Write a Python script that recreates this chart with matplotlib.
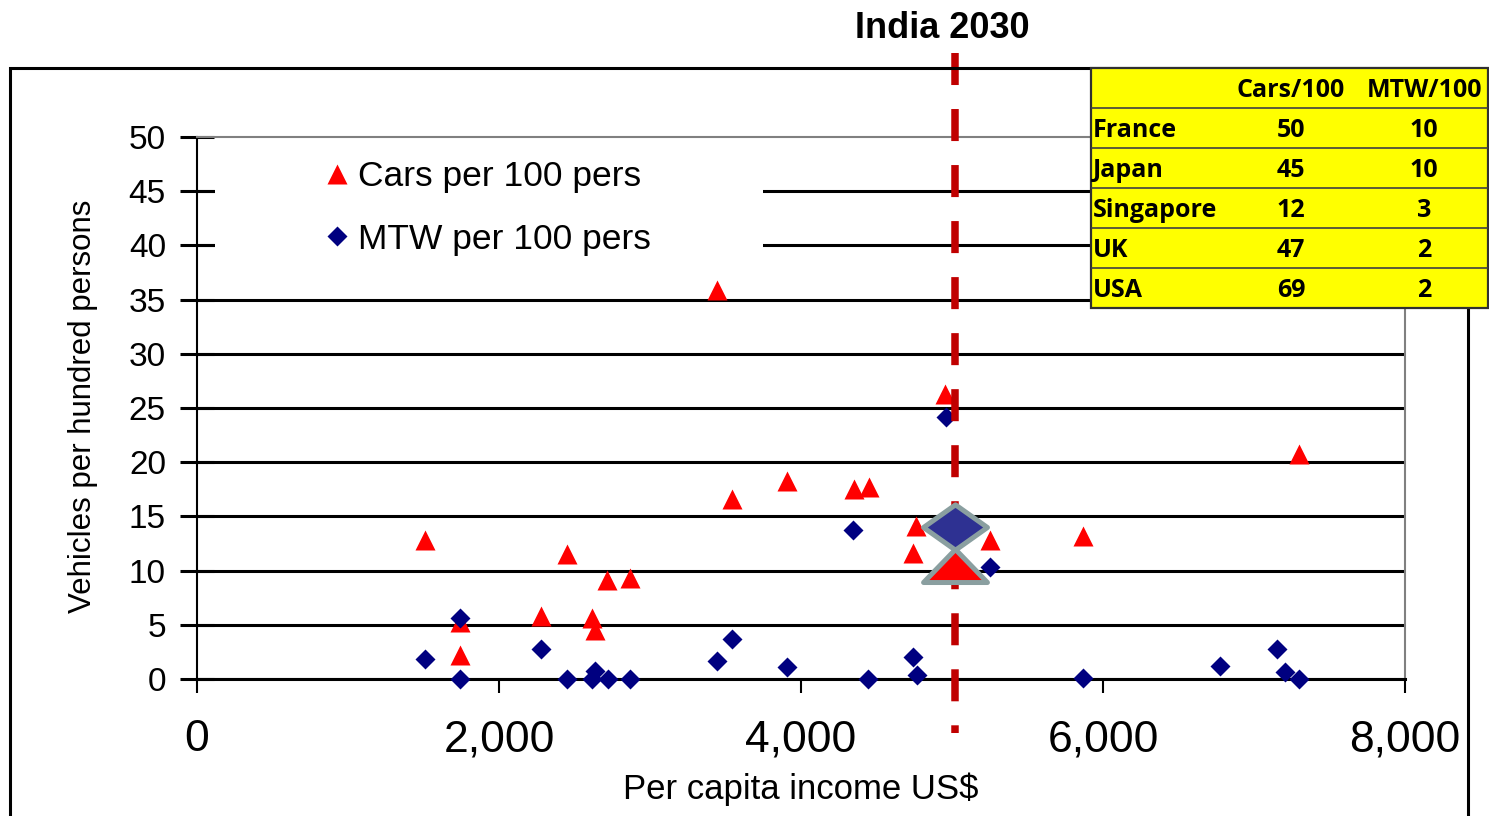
import matplotlib
matplotlib.use("Agg")
import matplotlib.pyplot as plt
from matplotlib.markers import MarkerStyle
from matplotlib.patches import Rectangle
from matplotlib.path import Path

plt.rcParams['font.family'] = ['Liberation Sans', 'DejaVu Sans']

# Cars per 100 persons vs per capita income (US$)
cars_income = [1510, 1740, 1740, 2280, 2450, 2615, 2635, 2715, 2865, 3445,
               3540, 3905, 4350, 4450, 4760, 4740, 4955, 5250, 5870, 7300]
cars_per100 = [12.8, 5.3, 2.2, 5.8, 11.5, 5.6, 4.5, 9.1, 9.3, 35.9,
               16.6, 18.3, 17.5, 17.7, 14.1, 11.6, 26.3, 12.8, 13.2, 20.8]

# Motorised two-wheelers per 100 persons
mtw_income = [1510, 1740, 1740, 2280, 2450, 2635, 2615, 2720, 2865, 3540,
              3445, 3905, 4445, 4345, 4740, 4765, 4960, 5250, 5870, 6775,
              7150, 7205, 7300]
mtw_per100 = [1.8, 5.6, 0.0, 2.8, 0.0, 0.7, 0.0, 0.0, 0.0, 3.7,
              1.7, 1.1, 0.0, 13.7, 2.0, 0.4, 24.2, 10.3, 0.1, 1.2,
              2.8, 0.6, 0.0]

# India projection for 2030
india_label = 'India 2030'
india_income = 5020
india_cars = 10
india_mtw = 14

x_ticks = [0, 2000, 4000, 6000, 8000]
x_tick_labels = ['0', '2,000', '4,000', '6,000', '8,000']
y_ticks = [0, 5, 10, 15, 20, 25, 30, 35, 40, 45, 50]

# ownership levels in developed countries
table_header = ['', 'Cars/100', 'MTW/100']
countries = ['France', 'Japan', 'Singapore', 'UK', 'USA']
country_cars = [50, 45, 12, 47, 69]
country_mtw = [10, 10, 3, 2, 2]

W, H = 1489, 816
fig = plt.figure(figsize=(W / 100, H / 100), dpi=100)


def fx(px):
    return px / W


def fy(py):
    return 1 - py / H


ax = fig.add_axes([fx(197), fy(679), (1405 - 197) / W, (679 - 137) / H])
ax.set_xlim(0, 8000)
ax.set_ylim(0, 50)

for y in y_ticks[:-1]:
    ax.axhline(y, color='black', lw=2.2, zorder=1.5)

for side in ['top', 'right']:
    ax.spines[side].set_color('#808080')
    ax.spines[side].set_linewidth(1.5)
ax.spines['left'].set_linewidth(1.5)
ax.spines['bottom'].set_linewidth(2.2)

ax.set_xticks(x_ticks)
ax.set_xticklabels(x_tick_labels)
ax.set_yticks(y_ticks)
ax.tick_params(axis='y', direction='inout', length=23.8, width=2.2, pad=10.5, labelsize=24)
ax.tick_params(axis='x', direction='out', length=10, width=1.5, pad=19, labelsize=32)

ax.set_xlabel('Per capita income US$', fontsize=25, va='center')
ax.xaxis.set_label_coords(0.5, (679 - 789) / 542)
ax.set_ylabel('Vehicles per hundred persons', fontsize=22.5, va='center', ha='center')
ax.yaxis.set_label_coords((83 - 197) / 1208, (679 - 406) / 542)

# white box behind the legend hides the upper gridlines
ax.add_patch(Rectangle((0.0149, 0.718), 0.4536, 0.267, transform=ax.transAxes,
                       facecolor='white', edgecolor='none', zorder=2))

h_cars, = ax.plot(cars_income, cars_per100, ls='none', marker='^', ms=14,
                  color='#ff0000', mec='none', clip_on=False, zorder=3)
h_mtw, = ax.plot(mtw_income, mtw_per100, ls='none', marker='D', ms=10.5,
                 color='#000080', mec='none', clip_on=False, zorder=3)

ax.legend([h_cars, h_mtw], ['Cars per 100 pers', 'MTW per 100 pers'],
          loc='upper left', bbox_to_anchor=(0.1073, 0.9575), frameon=False,
          fontsize=25.5, borderpad=0, borderaxespad=0, handlelength=0.6,
          handletextpad=0.3, labelspacing=0.84)

# dashed marker for India 2030 income level
ax.plot([india_income, india_income], [1.155, -0.0996], transform=ax.get_xaxis_transform(),
        color='#c00000', lw=5.4, dashes=(4.27, 3.2), clip_on=False, zorder=4)

diamond = MarkerStyle(Path([(-1, 0), (0, 0.71), (1, 0), (0, -0.71), (-1, 0)], closed=True),
                      joinstyle='miter')
triangle = MarkerStyle(Path([(-1, -0.345), (1, -0.345), (0, 0.69), (-1, -0.345)], closed=True),
                       joinstyle='miter')
ax.plot([india_income], [india_mtw], ls='none', marker=diamond, ms=46,
        mfc='#2e3192', mec='#8a9fa0', mew=3.6, clip_on=False, zorder=5)
ax.plot([india_income], [india_cars], ls='none', marker=triangle, ms=46,
        mfc='#ff0000', mec='#8a9fa0', mew=3.6, clip_on=False, zorder=6)

fig.text(fx(942), fy(28), india_label, fontsize=26, fontweight='bold',
         ha='center', va='center')

# outer frame
fig.add_artist(Rectangle((fx(10), -0.05), (1468 - 10) / W, fy(68) + 0.05,
                         transform=fig.transFigure, fill=False,
                         edgecolor='black', lw=2.2, zorder=1))

# comparison table in the top right corner
tab = fig.add_axes([fx(1091), fy(308), (1488 - 1091) / W, (308 - 68) / H])
tab.set_zorder(5)
n_rows = len(countries) + 1
tab.set_xlim(0, 1)
tab.set_ylim(n_rows, 0)
tab.axis('off')
tab.add_patch(Rectangle((0, 0), 1, 1, transform=tab.transAxes, facecolor='#ffff00',
                        edgecolor='#303030', lw=1.6, clip_on=False))
for r in range(1, n_rows):
    tab.axhline(r, color='#404040', lw=1.2)

col_x = [0.005, 0.504, 0.839]
tfont = dict(family=['Open Sans', 'DejaVu Sans'], fontweight='bold', fontsize=18, va='center')
for c, label in enumerate(table_header):
    tab.text(col_x[c], 0.57, label, ha='left' if c == 0 else 'center', **tfont)
for r, (name, cars, mtw) in enumerate(zip(countries, country_cars, country_mtw), start=1):
    yc = r + 0.57
    tab.text(col_x[0], yc, name, ha='left', **tfont)
    tab.text(col_x[1], yc, str(cars), ha='center', **tfont)
    tab.text(col_x[2], yc, str(mtw), ha='center', **tfont)

fig.savefig('out.png', dpi=100)
